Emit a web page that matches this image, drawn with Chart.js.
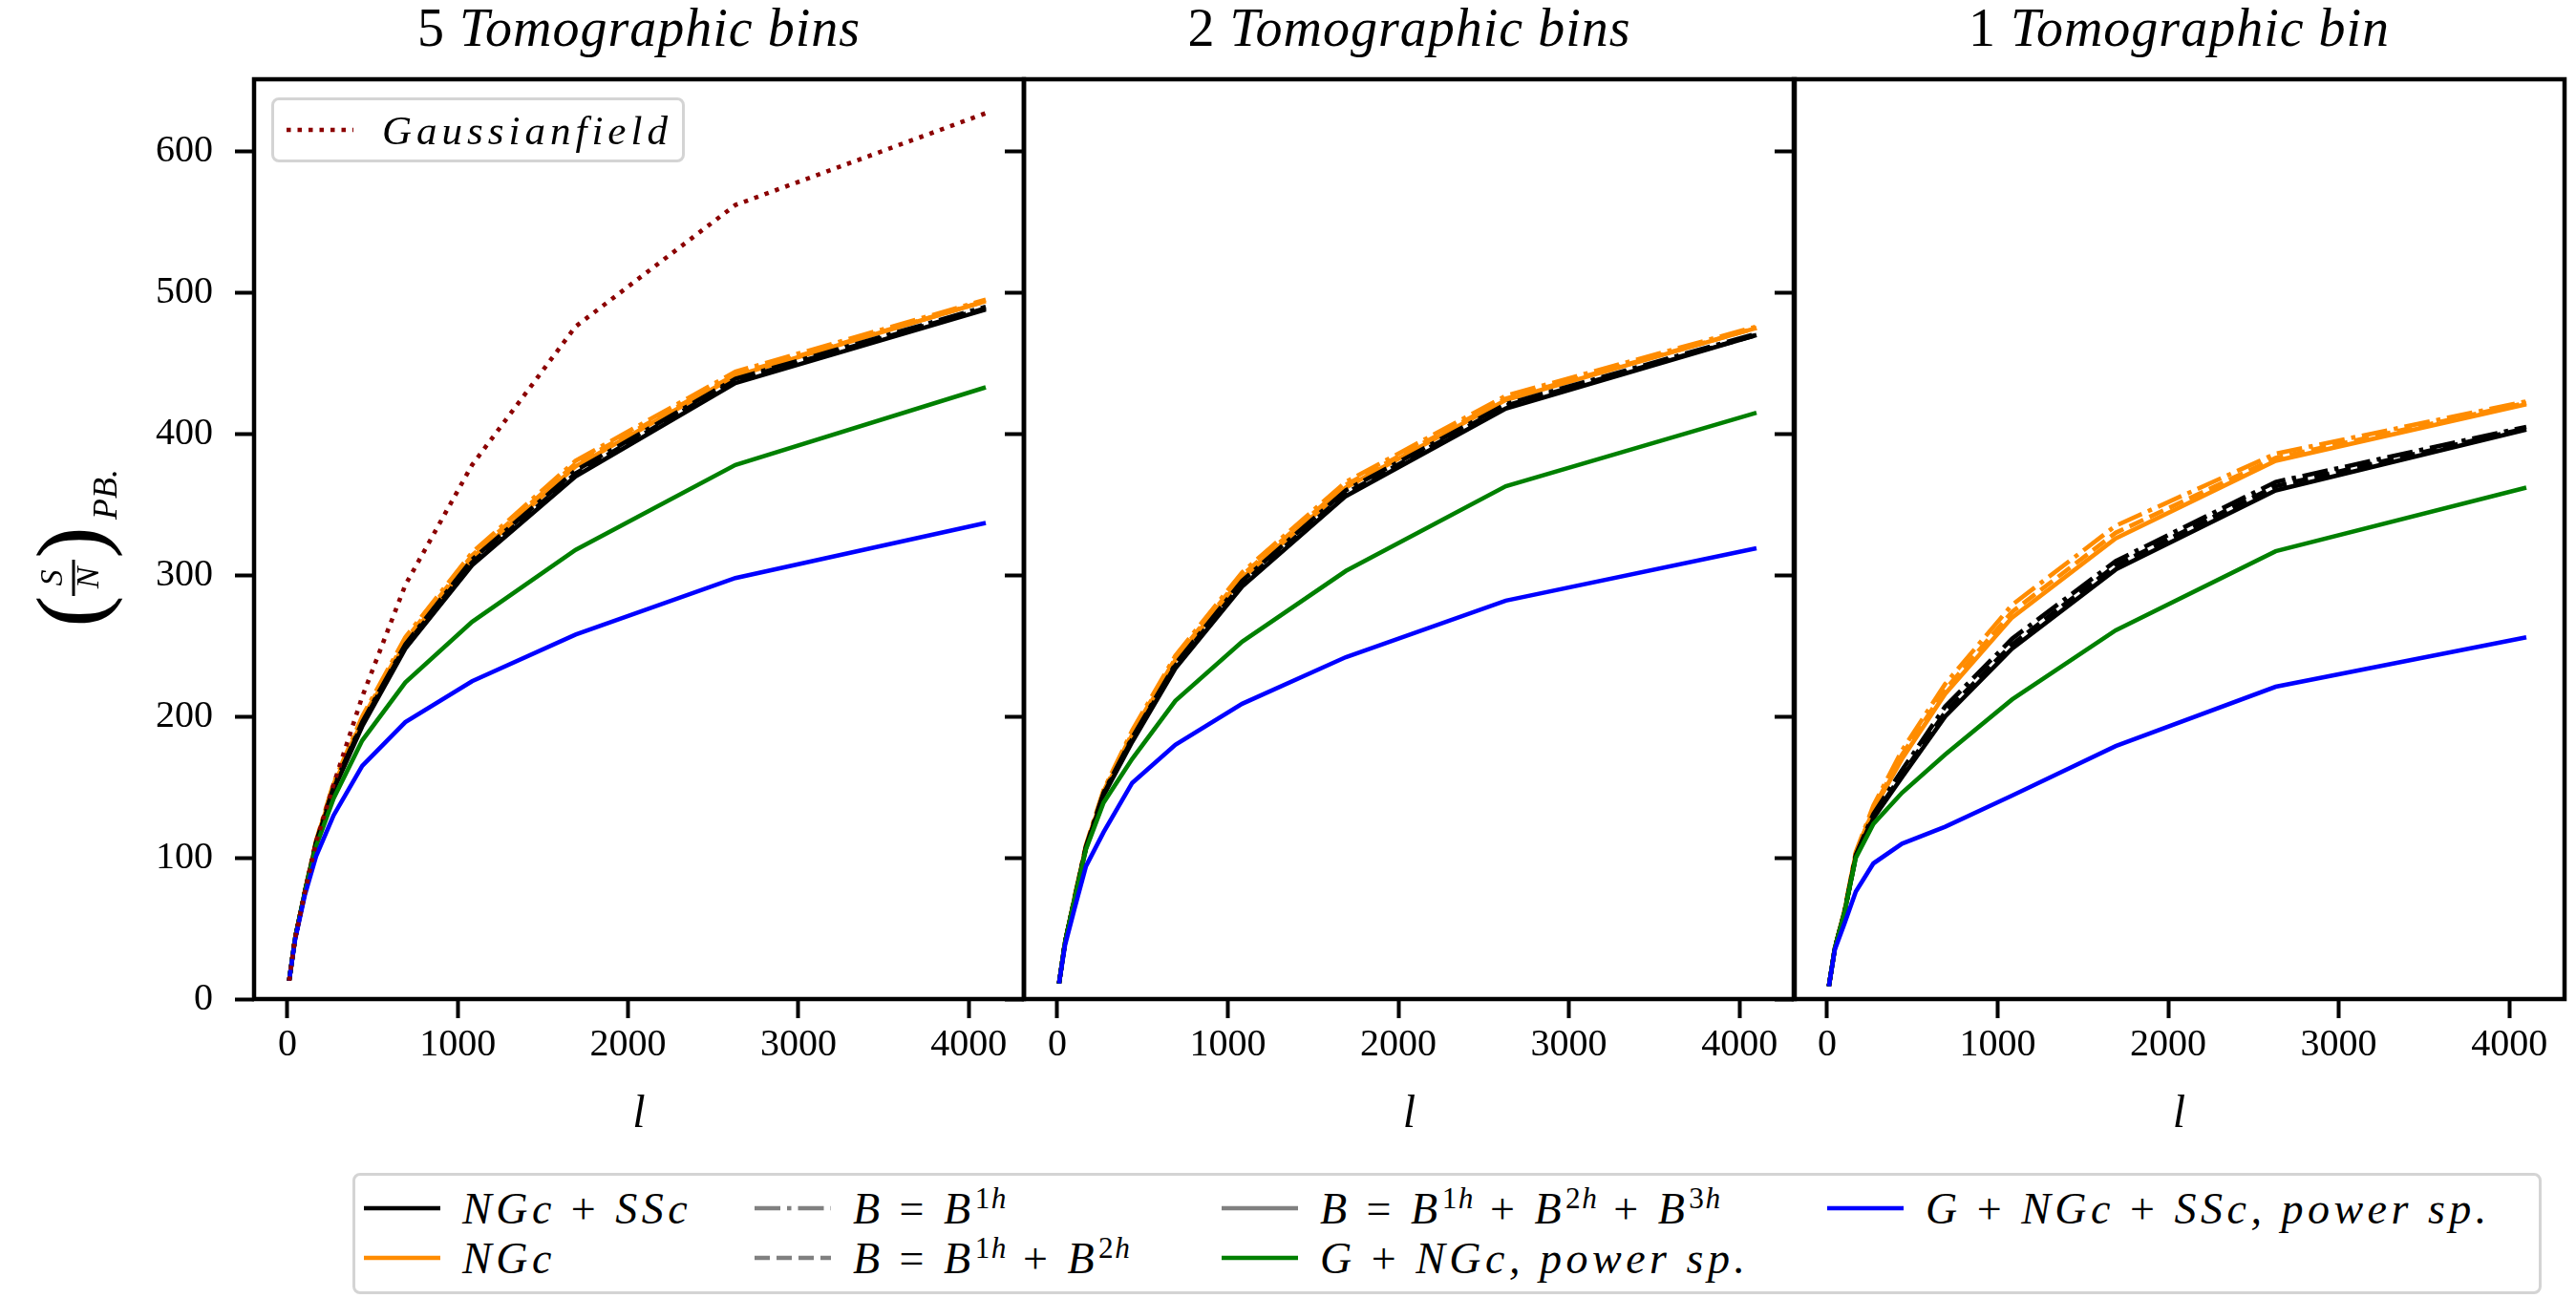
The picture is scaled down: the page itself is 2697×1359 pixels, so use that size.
<!DOCTYPE html>
<html>
<head>
<meta charset="utf-8">
<script src="https://cdn.jsdelivr.net/npm/chart.js@4.4.0/dist/chart.umd.min.js"></script>
<style>
  html, body { margin: 0; padding: 0; background: #fff; }
  body { width: 2697px; height: 1359px; position: relative; overflow: hidden; font-family: "Liberation Serif", serif; }
  canvas { position: absolute; top: 0; }
  .box { position: absolute; box-sizing: border-box; border: 3px solid #d4d4d4; border-radius: 8px; background: rgba(255,255,255,0.85); }
  .item { position: absolute; height: 50px; display: flex; align-items: center; white-space: nowrap; color: #000; }
  .item svg { flex: none; }
  .item span { font-style: italic; font-size: 46px; letter-spacing: 4.5px; }
  .item sup { font-size: 0.68em; letter-spacing: 1.5px; }
  .item b { font-weight: normal; font-style: normal; }
</style>
</head>
<body>
<canvas id="p1" width="1100" height="1200" style="left:0px"></canvas>
<canvas id="p2" width="875" height="1200" style="left:1032px"></canvas>
<canvas id="p3" width="859" height="1200" style="left:1838px"></canvas>

<div class="box" style="left:284px; top:102px; width:433px; height:68px;">
  <div class="item" id="gaussLegend" style="left:13px; top:6px;"></div>
</div>
<div class="box" id="legend" style="left:369px; top:1228px; width:2292px; height:127px;"></div>

<script>
// multipole bins (l) shared by every curve
const ells = [10, 45, 103, 168, 271, 439, 692, 1084, 1692, 2630, 4100];
const xTickValues = [0, 1000, 2000, 3000, 4000];
const yTickValues = [0, 100, 200, 300, 400, 500, 600];
const panelTitles = [['5', 'Tomographic bins'], ['2', 'Tomographic bins'], ['1', 'Tomographic bin']];

// 5 tomographic bins
const gauss5     = [13, 43, 76, 111, 152, 214, 293, 378, 476, 562, 627];
const ngcSsc5    = [13, 43, 76, 110, 148, 193, 248, 307, 370, 436, 488];
const ngcSsc5_1h = [13, 43, 76, 111, 150, 196, 251, 311, 374, 439, 490];
const ngcSsc5_2h = [13, 43, 76, 110, 149, 195, 250, 309, 372, 438, 489];
const ngc5       = [13, 43, 76, 111, 151, 197, 252, 312, 377, 441, 494];
const ngc5_1h    = [13, 43, 77, 112, 153, 200, 256, 316, 381, 444, 495];
const ngc5_2h    = [13, 43, 76, 111, 152, 198, 254, 314, 379, 442, 494];
const gNgcPs5    = [13, 43, 76, 108, 142, 183, 224, 267, 318, 378, 433];
const gNgcSscPs5 = [13, 42, 74, 101, 130, 165, 196, 225, 258, 298, 337];

// 2 tomographic bins
const ngcSsc2    = [11, 40, 72, 107, 144, 182, 234, 292, 356, 418, 470];
const ngcSsc2_1h = [11, 40, 72, 108, 146, 185, 237, 296, 360, 421, 471];
const ngcSsc2_2h = [11, 40, 72, 107, 145, 184, 236, 294, 358, 420, 470];
const ngc2       = [11, 40, 73, 108, 146, 187, 240, 298, 362, 424, 475];
const ngc2_1h    = [11, 40, 73, 109, 148, 190, 243, 302, 366, 427, 476];
const ngc2_2h    = [11, 40, 73, 108, 147, 188, 241, 300, 364, 425, 475];
const gNgcPs2    = [11, 40, 72, 106, 139, 170, 211, 253, 303, 363, 415];
const gNgcSscPs2 = [11, 38, 65, 94, 118, 153, 180, 209, 242, 282, 319];

// 1 tomographic bin
const ngcSsc1    = [9, 36, 62, 101, 128, 157, 200, 248, 304, 360, 403];
const ngcSsc1_1h = [9, 36, 62, 102, 131, 162, 207, 255, 310, 366, 405];
const ngcSsc1_2h = [9, 36, 62, 101, 129, 159, 203, 251, 307, 363, 404];
const ngc1       = [9, 36, 63, 103, 134, 170, 216, 270, 326, 381, 421];
const ngc1_1h    = [9, 36, 63, 104, 137, 176, 223, 279, 335, 386, 423];
const ngc1_2h    = [9, 36, 63, 103, 135, 173, 219, 274, 330, 383, 422];
const gNgcPs1    = [9, 36, 62, 100, 124, 146, 173, 212, 261, 317, 362];
const gNgcSscPs1 = [9, 35, 54, 76, 96, 110, 122, 144, 179, 221, 256];

const X_MIN = -196, X_MAX = 4324, Y_MIN = 0, Y_MAX = 651;
const LW = 4.6;
const SOLID = [], DASHDOT = [27, 7, 4.5, 7], DASHED = [16, 7], DOTTED = [4.5, 7];
const SERIF = '"Liberation Serif", "DejaVu Serif", serif';

function line(ys, color, dash) {
    return {
        data: ells.map((x, i) => ({ x: x, y: ys[i] })),
        borderColor: color,
        borderWidth: LW,
        borderDash: dash,
        borderCapStyle: 'butt',
        pointRadius: 0,
        fill: false,
        tension: 0
    };
}

function panelSets(p) {
    const sets = [];
    if (p.gauss) sets.push(line(p.gauss, '#8b0000', DOTTED));
    sets.push(line(p.gNgcSscPs, '#0000ff', SOLID));
    sets.push(line(p.gNgcPs, '#008000', SOLID));
    sets.push(line(p.ngcSsc, '#000000', SOLID));
    sets.push(line(p.ngcSsc1h, '#000000', DASHDOT));
    sets.push(line(p.ngcSsc2h, '#000000', DASHED));
    sets.push(line(p.ngc, '#ff8c00', SOLID));
    sets.push(line(p.ngc1h, '#ff8c00', DASHDOT));
    sets.push(line(p.ngc2h, '#ff8c00', DASHED));
    return sets;
}

const framePlugin = {
    id: 'frame',
    afterDatasetsDraw(chart) {
        const { ctx, chartArea: a } = chart;
        ctx.save();
        ctx.strokeStyle = '#000';
        ctx.lineWidth = 4.5;
        ctx.strokeRect(a.left, a.top, a.right - a.left, a.bottom - a.top);
        ctx.restore();
    }
};

const titlePlugin = {
    id: 'panelTitle',
    afterDraw(chart, args, opts) {
        const { ctx, chartArea: a } = chart;
        const f1 = '56px ' + SERIF, f2 = 'italic 56px ' + SERIF;
        ctx.save();
        ctx.fillStyle = '#000';
        ctx.textBaseline = 'middle';
        ctx.textAlign = 'left';
        ctx.letterSpacing = '1px';
        ctx.font = f1;
        const w1 = ctx.measureText(opts.num + ' ').width;
        ctx.font = f2;
        const w2 = ctx.measureText(opts.text).width;
        const x = (a.left + a.right) / 2 - (w1 + w2) / 2;
        ctx.font = f1;
        ctx.fillText(opts.num + ' ', x, 33);
        ctx.font = f2;
        ctx.fillText(opts.text, x + w1, 33);
        ctx.restore();
    }
};

// (S/N)_PB drawn rotated left of the first panel
const yLabelPlugin = {
    id: 'yLabel',
    afterDraw(chart) {
        const ctx = chart.ctx;
        ctx.save();
        ctx.translate(77, 568);
        ctx.rotate(-Math.PI / 2);
        ctx.fillStyle = '#000';
        ctx.textAlign = 'center';
        ctx.textBaseline = 'middle';
        ctx.font = '100px ' + SERIF;
        ctx.fillText('(', -72, 4);
        ctx.fillText(')', 0, 4);
        ctx.font = 'italic 34px ' + SERIF;
        ctx.fillText('S', -37, -21);
        ctx.fillText('N', -37, 17);
        ctx.fillRect(-56, -1.5, 38, 3);
        ctx.textAlign = 'left';
        ctx.font = 'italic 36px ' + SERIF;
        ctx.fillText('PB.', 24, 36);
        ctx.restore();
    }
};

function makeChart(id, p, title, yWidth, padRight, showY) {
    const plugins = [framePlugin, titlePlugin];
    if (showY) plugins.push(yLabelPlugin);
    return new Chart(document.getElementById(id), {
        type: 'line',
        data: { datasets: panelSets(p) },
        plugins: plugins,
        options: {
            responsive: false,
            animation: false,
            events: [],
            layout: { padding: { top: 83, right: padRight, left: 0, bottom: 0 } },
            plugins: {
                legend: { display: false },
                tooltip: { enabled: false },
                panelTitle: { num: title[0], text: title[1] }
            },
            scales: {
                x: {
                    type: 'linear',
                    min: X_MIN,
                    max: X_MAX,
                    afterBuildTicks: s => { s.ticks = xTickValues.map(v => ({ value: v })); },
                    afterFit: s => { s.height = 154; },
                    ticks: {
                        color: '#000', font: { family: SERIF, size: 40 }, padding: 4, maxRotation: 0, autoSkip: false,
                        callback: v => String(v)
                    },
                    grid: { drawOnChartArea: false, tickLength: 20, tickWidth: 4, tickColor: '#000' },
                    border: { display: false },
                    title: { display: true, text: 'l', color: '#000', font: { family: SERIF, size: 48, style: 'italic' }, padding: { top: 0, bottom: 4 } }
                },
                y: {
                    type: 'linear',
                    min: Y_MIN,
                    max: Y_MAX,
                    afterBuildTicks: s => { s.ticks = yTickValues.map(v => ({ value: v })); },
                    afterFit: s => { s.width = yWidth; },
                    ticks: {
                        color: '#000', font: { family: SERIF, size: 40 }, padding: 23, autoSkip: false,
                        callback: v => showY ? String(v) : ''
                    },
                    grid: { drawOnChartArea: false, tickLength: 20, tickWidth: 4, tickColor: '#000' },
                    border: { display: false }
                }
            }
        }
    });
}

makeChart('p1', {
    gauss: gauss5, ngcSsc: ngcSsc5, ngcSsc1h: ngcSsc5_1h, ngcSsc2h: ngcSsc5_2h,
    ngc: ngc5, ngc1h: ngc5_1h, ngc2h: ngc5_2h, gNgcPs: gNgcPs5, gNgcSscPs: gNgcSscPs5
}, panelTitles[0], 266, 28, true);

makeChart('p2', {
    ngcSsc: ngcSsc2, ngcSsc1h: ngcSsc2_1h, ngcSsc2h: ngcSsc2_2h,
    ngc: ngc2, ngc1h: ngc2_1h, ngc2h: ngc2_2h, gNgcPs: gNgcPs2, gNgcSscPs: gNgcSscPs2
}, panelTitles[1], 40, 28, false);

makeChart('p3', {
    ngcSsc: ngcSsc1, ngcSsc1h: ngcSsc1_1h, ngcSsc2h: ngcSsc1_2h,
    ngc: ngc1, ngc1h: ngc1_1h, ngc2h: ngc1_2h, gNgcPs: gNgcPs1, gNgcSscPs: gNgcSscPs1
}, panelTitles[2], 40, 12, false);

// legends (HTML, laid out in matplotlib's column order)
function sample(color, dash, len) {
    return '<svg width="' + len + '" height="20"><line x1="0" y1="10" x2="' + len + '" y2="10" stroke="' + color +
        '" stroke-width="4.5" stroke-dasharray="' + (dash.length ? dash.join(' ') : 'none') + '"/></svg>';
}

document.getElementById('gaussLegend').innerHTML =
    sample('#8b0000', DOTTED, 70) + '<span style="margin-left:30px; font-size:43px; letter-spacing:5px">Gaussianfield</span>';

const legendItems = [
    { col: 0, row: 0, color: '#000000', dash: SOLID, html: 'NGc <b>+</b> SSc' },
    { col: 0, row: 1, color: '#ff8c00', dash: SOLID, html: 'NGc' },
    { col: 1, row: 0, color: '#808080', dash: DASHDOT, html: 'B <b>=</b> B<sup><b>1</b>h</sup>' },
    { col: 1, row: 1, color: '#808080', dash: DASHED, html: 'B <b>=</b> B<sup><b>1</b>h</sup> <b>+</b> B<sup><b>2</b>h</sup>' },
    { col: 2, row: 0, color: '#808080', dash: SOLID, html: 'B <b>=</b> B<sup><b>1</b>h</sup> <b>+</b> B<sup><b>2</b>h</sup> <b>+</b> B<sup><b>3</b>h</sup>' },
    { col: 2, row: 1, color: '#008000', dash: SOLID, html: 'G <b>+</b> NGc, power sp.' },
    { col: 3, row: 0, color: '#0000ff', dash: SOLID, html: 'G <b>+</b> NGc <b>+</b> SSc, power sp.' }
];
const colLeft = [9, 418, 907, 1541];
const rowTop = [9, 61];
const legend = document.getElementById('legend');
legendItems.forEach(it => {
    const d = document.createElement('div');
    d.className = 'item';
    d.style.left = colLeft[it.col] + 'px';
    d.style.top = rowTop[it.row] + 'px';
    d.innerHTML = sample(it.color, it.dash, 80) + '<span style="margin-left:23px">' + it.html + '</span>';
    legend.appendChild(d);
});
</script>
</body>
</html>
